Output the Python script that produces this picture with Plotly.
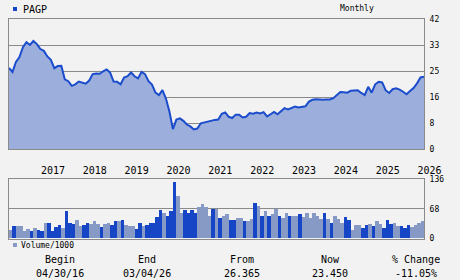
import plotly.graph_objects as go

# ---------------- data ----------------
symbol = "PAGP"
start_year, start_month = 2016, 4  # first bar = April 2016

price = [26.3, 25.0, 28.2, 29.8, 33.0, 34.6, 33.7, 35.0, 34.0, 32.4,
         31.8, 30.0, 28.9, 26.2, 26.9, 27.0, 22.6, 22.0, 20.5, 21.0,
         21.9, 21.5, 21.2, 22.2, 24.3, 24.5, 24.4, 25.2, 25.8, 24.8,
         21.9, 21.8, 21.0, 23.2, 23.6, 24.8, 23.6, 22.9, 25.0, 24.3,
         22.0, 20.9, 18.3, 17.5, 19.1, 16.4, 12.2, 6.5, 9.6, 10.0,
         9.2, 8.0, 7.4, 6.4, 6.7, 8.4, 8.7, 9.0, 9.3, 9.5,
         9.6, 11.5, 11.9, 10.5, 10.1, 11.2, 11.2, 10.3, 10.5, 11.7,
         11.5, 11.9, 11.6, 12.0, 10.6, 11.3, 12.1, 11.3, 12.4, 13.3,
         12.9, 13.4, 13.8, 13.5, 13.7, 13.9, 15.4, 16.0, 16.2, 16.0,
         16.0, 16.1, 16.1, 16.5, 17.5, 18.5, 18.4, 18.3, 18.9, 19.1,
         19.1, 18.2, 17.5, 20.2, 18.3, 21.0, 21.8, 21.6, 19.1, 18.2,
         19.4, 19.7, 19.3, 18.6, 17.8, 18.8, 19.8, 21.3, 23.2, 23.45]

volume = [18, 27, 27, 27, 16, 20, 16, 23, 18, 16,
          36, 36, 16, 25, 30, 23, 62, 34, 32, 41,
          27, 30, 36, 32, 39, 32, 25, 32, 34, 30,
          39, 39, 41, 30, 27, 27, 20, 36, 27, 30,
          34, 34, 48, 64, 57, 50, 62, 130, 98, 59,
          64, 57, 64, 59, 71, 78, 71, 52, 66, 66,
          46, 50, 55, 41, 41, 46, 46, 39, 39, 43,
          80, 73, 50, 62, 52, 55, 66, 52, 46, 57,
          52, 50, 52, 55, 48, 59, 46, 57, 50, 43,
          59, 43, 34, 50, 43, 34, 48, 41, 18, 30,
          30, 23, 30, 32, 27, 39, 32, 23, 41, 32,
          36, 27, 27, 23, 30, 25, 30, 36, 39]

vol_dir = list("GBGGGGBGBB"
               "GBBBBGBBBG"
               "GBBGGGBGGB"
               "BGBGGGBBGB"
               "BBBBGBBBGG"
               "BBBBGGGGBG"
               "BGGBBGGBGG"
               "BGBGBGGBGG"
               "BGGBGGGGGG"
               "BGBGGGBBGG"
               "GBBGBGGBBB"
               "GGBBBGGGG")

year_labels = ["2017", "2018", "2019", "2020", "2021", "2022", "2023", "2024", "2025", "2026"]
price_ticks = [0, 8.4, 16.8, 25.2, 33.6, 42]
price_tick_text = ["0", "8", "16", "25", "33", "42"]
vol_ticks = [0, 68, 136]
vol_tick_text = ["0", "68", "136"]

summary_labels = ["Begin", "End", "From", "Now", "% Change"]
summary_values = ["04/30/16", "03/04/26", "26.365", "23.450", "-11.05%"]

# ---------------- styles ----------------
W, H = 460, 280
BG = "#f2f2f2"
LINE = "#1a4ccc"
FILL = "#9cafdc"
BAR_DARK = "#1646c6"
BAR_LIGHT = "#8799c5"
GRID = "#8a8a8a"
MONO = "DejaVu Sans Mono"

n_bars = len(volume)
bar_x = list(range(n_bars))
price_x = [j - 0.5 for j in range(len(price))]
xr = [-0.5, n_bars - 0.5]

year_ticks = [(int(y) - start_year) * 12 - (start_month - 1) - 0.5 for y in year_labels]

x_dom = [9 / W, 424 / W]
p_dom = [1 - 149.3 / H, 1 - 19.3 / H]
v_dom = [1 - 238.5 / H, 1 - 179.3 / H]

fig = go.Figure()
fig.add_trace(go.Scatter(x=price_x, y=price, mode="lines", fill="tozeroy",
                         fillcolor=FILL, line=dict(color=LINE, width=2),
                         xaxis="x", yaxis="y", hoverinfo="skip"))
fig.add_trace(go.Bar(x=bar_x, y=volume,
                     marker=dict(color=[BAR_DARK if d == "B" else BAR_LIGHT for d in vol_dir],
                                 line=dict(width=0)),
                     xaxis="x2", yaxis="y2", hoverinfo="skip"))

axis_common = dict(showline=True, mirror=True, linecolor=GRID, linewidth=1,
                   zeroline=False, fixedrange=True, automargin=False)

fig.update_layout(
    width=W, height=H, margin=dict(l=0, r=0, t=0, b=0, autoexpand=False),
    paper_bgcolor=BG, plot_bgcolor=BG, showlegend=False, bargap=0,
    xaxis=dict(domain=x_dom, range=xr, anchor="y", tickvals=year_ticks, ticktext=year_labels,
               ticks="", showgrid=False, ticklabelposition="outside right",
               ticklabelstandoff=12,
               tickfont=dict(family=MONO, size=10, color="#000"), **axis_common),
    yaxis=dict(domain=p_dom, range=[0, 42], anchor="x", side="right",
               tickvals=price_ticks, ticktext=price_tick_text, ticks="",
               showgrid=True, gridcolor=GRID, gridwidth=1, ticklabelstandoff=3,
               tickfont=dict(family=MONO, size=8, color="#000"), **axis_common),
    xaxis2=dict(domain=x_dom, range=xr, anchor="y2", showticklabels=False, ticks="",
                showgrid=False, **axis_common),
    yaxis2=dict(domain=v_dom, range=[0, 136], anchor="x2", side="right",
                tickvals=vol_ticks, ticktext=vol_tick_text, ticks="",
                showgrid=True, gridcolor=GRID, gridwidth=1, ticklabelstandoff=3,
                tickfont=dict(family=MONO, size=8, color="#000"), **axis_common),
)

def px(x, y):
    return x / W, 1 - y / H

shapes = []
for (x0, y0, c) in [(13, 7, BAR_DARK), (13, 243, BAR_LIGHT)]:
    a0, b0 = px(x0, y0)
    a1, b1 = px(x0 + 4, y0 + 4)
    shapes.append(dict(type="rect", xref="paper", yref="paper", x0=a0, x1=a1, y0=b1, y1=b0,
                       fillcolor=c, line=dict(width=0)))
fig.update_layout(shapes=shapes)

ann = []
def add_text(t, x, y, size, xanchor="left", family=MONO):
    ax, ay = px(x, y)
    ann.append(dict(text=t, x=ax, y=ay, xref="paper", yref="paper", showarrow=False,
                    xanchor=xanchor, yanchor="middle", font=dict(family=family, size=size, color="#000")))

add_text(symbol, 21, 9.5, 10)
add_text("Monthly", 357, 8.5, 8, "center")
add_text("Volume/1000", 19, 245.5, 8)
centers = [60, 147, 242, 330, 416]
for lab, val, cx in zip(summary_labels, summary_values, centers):
    add_text(lab, cx, 259, 10, "center")
    add_text(val, cx, 273, 10, "center")
fig.update_layout(annotations=ann)

fig.write_html("out.html")
